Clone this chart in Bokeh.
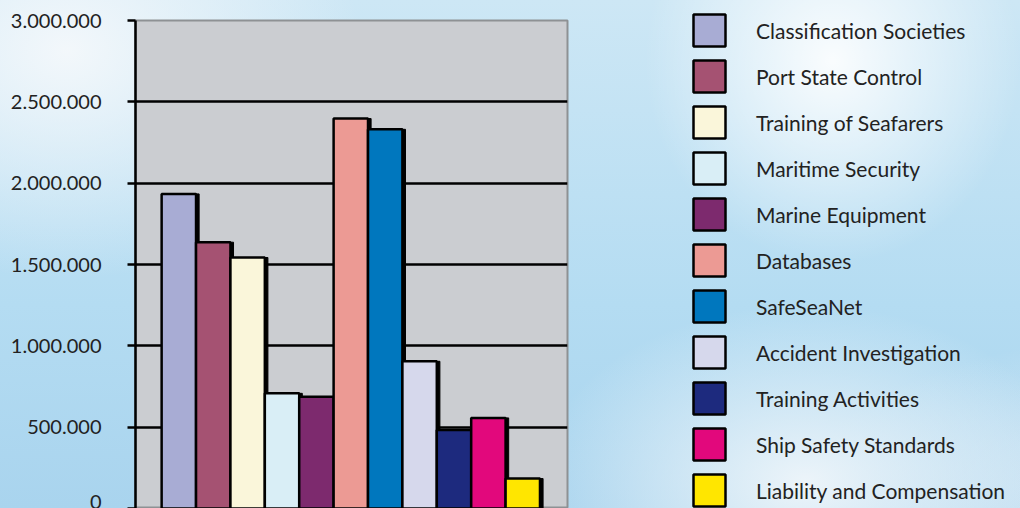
from bokeh.plotting import figure
from bokeh.models import (Range1d, Legend, LegendItem, FixedTicker, CustomJSTickFormatter,
                          ColumnDataSource)
from bokeh.embed import file_html
from bokeh.resources import INLINE

categories = ["Classification Societies", "Port State Control", "Training of Seafarers",
              "Maritime Security", "Marine Equipment", "Databases", "SafeSeaNet",
              "Accident Investigation", "Training Activities", "Ship Safety Standards",
              "Liability and Compensation"]
values = [1934000, 1637000, 1543000, 708000, 687000, 2397000, 2331000,
          905000, 483000, 557000, 184000]
colors = ["#a8acd4", "#a55272", "#faf6da", "#d9eef6", "#7d2a6e", "#ec9a94", "#0077be",
          "#d6d8ec", "#1d2a7e", "#e2087c", "#ffe600"]
y_ticks = [0, 500000, 1000000, 1500000, 2000000, 2500000, 3000000]

positions = list(range(1, len(categories) + 1))
shadow_x = [x + 0.09 for x in positions]

p = figure(frame_width=432, frame_height=488, output_backend="svg", toolbar_location=None,
           x_range=Range1d(-0.26, 12.30), y_range=Range1d(0, 3000000),
           x_axis_location=None, min_border_left=135, min_border_top=20,
           min_border_bottom=0, min_border_right=453)
p.styles = {"background":
    "radial-gradient(ellipse 22% 45% at 5% 10%, rgba(244,248,251,0.97), rgba(244,248,251,0) 100%),"
    "radial-gradient(ellipse 14% 40% at 62% 12%, rgba(255,255,255,0.9), rgba(255,255,255,0) 100%),"
    "radial-gradient(ellipse 20% 35% at 60% 95%, rgba(240,246,250,0.95), rgba(240,246,250,0) 100%),"
    "radial-gradient(ellipse 20% 30% at 97% 40%, rgba(240,246,250,0.85), rgba(240,246,250,0) 100%),"
    "radial-gradient(ellipse 30% 30% at 90% 95%, rgba(225,237,246,0.9), rgba(225,237,246,0) 100%),"
    "linear-gradient(180deg, #cde7f5 0%, #b4dcf2 60%, #a9d4ee 100%)"}
p.border_fill_alpha = 0
p.background_fill_color = "#cbcdd1"
p.outline_line_color = "#8e9194"
p.outline_line_width = 2

p.xgrid.visible = False
p.ygrid.ticker = FixedTicker(ticks=y_ticks[1:-1])
p.ygrid.grid_line_color = "black"
p.ygrid.grid_line_width = 2.5

ax = p.yaxis[0]
ax.ticker = FixedTicker(ticks=y_ticks)
ax.formatter = CustomJSTickFormatter(code="""
    return Math.round(tick).toString().replace(/\\B(?=(\\d{3})+(?!\\d))/g, ".");
""")
ax.axis_line_color = "black"
ax.axis_line_width = 2.5
ax.major_tick_line_color = "black"
ax.major_tick_line_width = 2.5
ax.major_tick_out = 8
ax.major_tick_in = 0
ax.minor_tick_line_color = None
ax.major_label_text_font = "Lato"
ax.major_label_text_font_size = "20px"
ax.major_label_text_color = "#222222"
ax.major_label_standoff = 26

src = ColumnDataSource(dict(x=positions, sx=shadow_x, top=values, color=colors, name=categories))
p.vbar(x="sx", top="top", width=1.0, bottom=0, source=src,
       fill_color="black", line_color="black")
items = []
for i in range(len(categories)):
    r = p.vbar(x=positions[i], top=values[i], width=1.0, bottom=0,
               fill_color=colors[i], line_color="black", line_width=2.5)
    items.append(LegendItem(label=categories[i], renderers=[r]))

legend = Legend(items=items, location=(122, -2), margin=0, padding=0,
                border_line_alpha=0, background_fill_alpha=0,
                glyph_width=40, glyph_height=40, label_height=40, label_standoff=27,
                spacing=6, label_text_font="Lato", label_text_font_size="21px",
                label_text_color="#222222")
p.add_layout(legend, "right")

open("out.html", "w").write(file_html(p, INLINE))
